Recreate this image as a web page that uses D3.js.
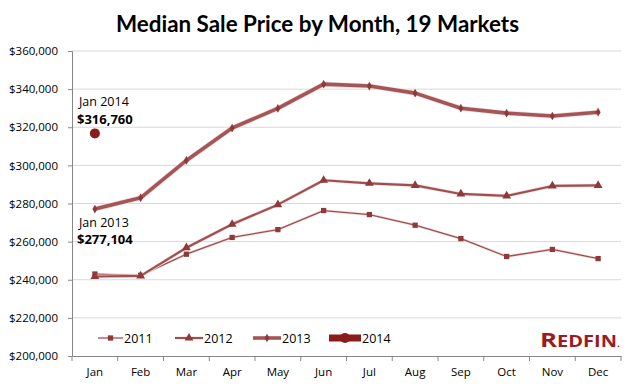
<!DOCTYPE html>
<html>
<head>
<meta charset="utf-8">
<script src="https://cdn.jsdelivr.net/npm/d3@7"></script>
<style>
  html, body { margin: 0; padding: 0; background: #fff; }
  svg { display: block; font-family: Lato, "Open Sans", sans-serif; }
</style>
</head>
<body>
<div id="chart"></div>
<script>
// 데이터
const months = ['Jan', 'Feb', 'Mar', 'Apr', 'May', 'Jun', 'Jul', 'Aug', 'Sep', 'Oct', 'Nov', 'Dec'];
const sales2011 = [243000, 242300, 253400, 262200, 266300, 276300, 274200, 268600, 261600, 252200, 255900, 251100];
const sales2012 = [241700, 242000, 256800, 269100, 279400, 292200, 290600, 289500, 285000, 284000, 289200, 289500];
const sales2013 = [277104, 283000, 302600, 319600, 329900, 342600, 341600, 337900, 330000, 327400, 325900, 327900];
const sales2014 = [316760];
const yTicks = [200000, 220000, 240000, 260000, 280000, 300000, 320000, 340000, 360000];

const width = 636, height = 389;
const margin = { top: 51, right: 15, bottom: 33, left: 72 };
const lineColor = '#a04e4e';

const svg = d3.select('#chart').append('svg')
    .attr('width', width)
    .attr('height', height);

const x = d3.scaleBand()
    .domain(months)
    .range([margin.left, width - margin.right]);

const y = d3.scaleLinear()
    .domain([200000, 360000])
    .range([height - margin.bottom, margin.top]);

const fmt = d3.format('$,');

// 제목
svg.append('text')
    .attr('x', 116)
    .attr('y', 32)
    .attr('textLength', 403)
    .attr('lengthAdjust', 'spacingAndGlyphs')
    .style('font-family', 'Lato, sans-serif')
    .style('font-weight', 'bold')
    .style('font-size', '23px')
    .style('fill', '#000')
    .text('Median Sale Price by Month, 19 Markets');

// 그리드
svg.append('g')
    .selectAll('line')
    .data(yTicks.slice(1))
    .join('line')
    .attr('x1', margin.left)
    .attr('x2', width - margin.right)
    .attr('y1', d => y(d))
    .attr('y2', d => y(d))
    .style('stroke', '#d9d9d9')
    .style('stroke-width', 1);

// Y축
const yAxis = svg.append('g')
    .attr('transform', `translate(${margin.left},0)`)
    .call(d3.axisLeft(y).tickValues(yTicks).tickFormat(fmt).tickSize(4).tickPadding(10));
yAxis.select('.domain').style('stroke', '#868686');
yAxis.selectAll('.tick line').style('stroke', '#868686');
yAxis.selectAll('.tick text')
    .style('font-family', '"Open Sans", sans-serif')
    .style('font-size', '11.5px')
    .style('fill', '#000');

// X축
const xAxis = svg.append('g')
    .attr('transform', `translate(0,${height - margin.bottom})`)
    .call(d3.axisBottom(x).tickSize(0).tickPadding(12));
xAxis.select('.domain').style('stroke', '#868686');
xAxis.selectAll('.tick text')
    .style('font-family', '"Open Sans", sans-serif')
    .style('font-size', '11.5px')
    .style('fill', '#000');
xAxis.selectAll('.boundary')
    .data(d3.range(months.length + 1))
    .join('line')
    .attr('class', 'boundary')
    .attr('x1', i => margin.left + i * x.step())
    .attr('x2', i => margin.left + i * x.step())
    .attr('y1', 0)
    .attr('y2', 5)
    .style('stroke', '#868686');

const cx = d => x(d) + x.bandwidth() / 2;
const line = d3.line()
    .x((d, i) => cx(months[i]))
    .y(d => y(d));

// 시리즈
const series = [
    { name: '2011', values: sales2011, width: 1.3, marker: 'square', color: lineColor },
    { name: '2012', values: sales2012, width: 2.2, marker: 'triangle', color: lineColor },
    { name: '2013', values: sales2013, width: 3.6, marker: 'diamond', color: '#a55555' },
    { name: '2014', values: sales2014, width: 7, marker: 'circle', color: '#8b1c1c' }
];

const markerPath = {
    square: d3.symbol(d3.symbolSquare, 28),
    triangle: d3.symbol(d3.symbolTriangle, 34),
    diamond: d3.symbol(d3.symbolDiamond, 22),
    circle: d3.symbol(d3.symbolCircle, 80)
};

series.forEach(s => {
    if (s.values.length > 1) {
        // 밝은 테두리
        svg.append('path')
            .datum(s.values)
            .attr('d', line)
            .style('fill', 'none')
            .style('stroke', '#f0dede')
            .style('stroke-width', s.width + 1.4)
            .style('stroke-linejoin', 'round');
        svg.append('path')
            .datum(s.values)
            .attr('d', line)
            .style('fill', 'none')
            .style('stroke', s.color)
            .style('stroke-width', s.width)
            .style('stroke-linejoin', 'round');
    }
    svg.append('g')
        .selectAll('path')
        .data(s.values)
        .join('path')
        .attr('transform', (d, i) => `translate(${cx(months[i])},${y(d)})`)
        .attr('d', markerPath[s.marker])
        .style('fill', s.marker === 'circle' ? s.color : '#8e3a3a');
});

// 주석
const notes = [
    { label: 'Jan 2014', value: sales2014[0], dyLabel: -27, dyValue: -9.5 },
    { label: 'Jan 2013', value: sales2013[0], dyLabel: 17.5, dyValue: 35 }
];
notes.forEach(n => {
    const py = y(n.value);
    svg.append('text')
        .attr('x', 79)
        .attr('y', py + n.dyLabel)
        .style('font-family', '"Open Sans", sans-serif')
        .style('font-size', '12.5px')
        .style('fill', '#000')
        .text(n.label);
    svg.append('text')
        .attr('x', 77)
        .attr('y', py + n.dyValue)
        .style('font-family', '"Open Sans", sans-serif')
        .style('font-weight', 'bold')
        .style('font-size', '13px')
        .style('fill', '#000')
        .text(fmt(n.value));
});

// 범례
const legendX = [98, 175, 253, 329];
const legendW = [25, 28, 28, 32];
const ly = 338;
series.forEach((s, i) => {
    const g = svg.append('g');
    g.append('line')
        .attr('x1', legendX[i])
        .attr('x2', legendX[i] + legendW[i])
        .attr('y1', ly)
        .attr('y2', ly)
        .style('stroke', s.color)
        .style('stroke-width', s.width);
    g.append('path')
        .attr('transform', `translate(${legendX[i] + legendW[i] / 2},${ly})`)
        .attr('d', markerPath[s.marker])
        .style('fill', s.marker === 'circle' ? s.color : '#8e3a3a');
    g.append('text')
        .attr('x', legendX[i] + legendW[i] + 1)
        .attr('y', ly + 4.5)
        .style('font-family', '"Open Sans", sans-serif')
        .style('font-size', '12.5px')
        .style('fill', '#000')
        .text(s.name);
});

// 로고
const logo = svg.append('text')
    .attr('x', 540)
    .attr('y', 347)
    .attr('textLength', 80)
    .attr('lengthAdjust', 'spacingAndGlyphs')
    .style('font-family', '"Open Sans", sans-serif')
    .style('font-weight', 'bold')
    .style('fill', '#9b1c1f');
logo.append('tspan').style('font-size', '20px').text('R');
logo.append('tspan').style('font-size', '15.5px').text('EDFIN');
logo.append('tspan').style('font-size', '8px').text('.');
</script>
</body>
</html>
